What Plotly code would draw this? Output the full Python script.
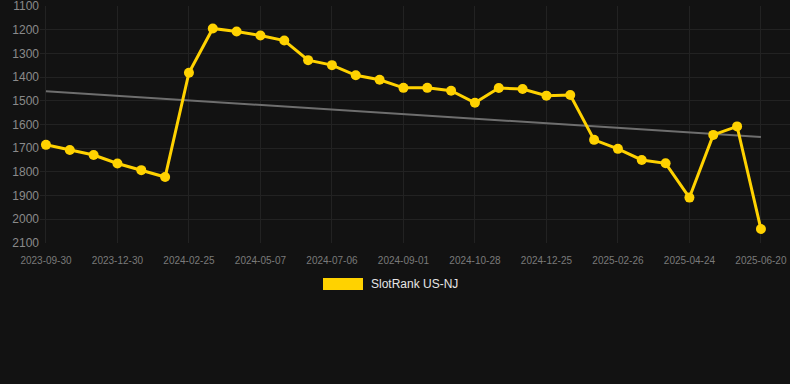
import plotly.graph_objects as go

dates = [
    "2023-09-30", "2023-10-30", "2023-11-30", "2023-12-30", "2024-01-18", "2024-02-06",
    "2024-02-25", "2024-03-19", "2024-04-13", "2024-05-07", "2024-05-27", "2024-06-16",
    "2024-07-06", "2024-07-25", "2024-08-13", "2024-09-01", "2024-09-20", "2024-10-09",
    "2024-10-28", "2024-11-16", "2024-12-05", "2024-12-25", "2025-01-15", "2025-02-05",
    "2025-02-26", "2025-03-17", "2025-04-05", "2025-04-24", "2025-05-13", "2025-06-01",
    "2025-06-20",
]
rank = [
    1686, 1708, 1729, 1765, 1793, 1822,
    1381, 1194, 1207, 1224, 1245, 1328,
    1349, 1392, 1411, 1445, 1445, 1457,
    1508, 1446, 1450, 1478, 1475, 1665,
    1703, 1750, 1764, 1909, 1644, 1608,
    2042,
]
trend_x = [dates[0], dates[-1]]
trend_y = [1459, 1653]

tick_labels = dates[::3]
y_ticks = [1100, 1200, 1300, 1400, 1500, 1600, 1700, 1800, 1900, 2000, 2100]

series_name = "SlotRank US-NJ"
gold = "#FFD200"
bg = "#121212"
grid = "#222222"

fig = go.Figure()
fig.add_trace(go.Scatter(
    x=trend_x, y=trend_y, mode="lines",
    line=dict(color="#6e6e6e", width=2),
    showlegend=False, hoverinfo="skip",
))
fig.add_trace(go.Scatter(
    x=dates, y=rank, mode="lines+markers", name=series_name,
    line=dict(color=gold, width=3),
    marker=dict(color=gold, size=10),
    showlegend=False,
))

# legend swatch + label
fig.add_shape(type="rect", xref="paper", yref="paper",
              x0=(323 - 40) / 750, x1=(363 - 40) / 750,
              y0=(243 - 278) / 237, y1=(243 - 290) / 237,
              fillcolor=gold, line=dict(width=0))
fig.add_annotation(text=series_name, xref="paper", yref="paper",
                   x=(369 - 40) / 750, y=(243 - 284) / 237,
                   xanchor="left", yanchor="middle", showarrow=False,
                   font=dict(family="Liberation Sans, Arial", size=12, color="#e6e6e6"))

fig.update_layout(
    width=790, height=384,
    margin=dict(l=40, r=0, t=6, b=141),
    paper_bgcolor=bg, plot_bgcolor=bg,
    font=dict(family="Liberation Sans, Arial", color="#888888"),
    showlegend=False,
    xaxis=dict(
        type="category", categoryorder="array", categoryarray=dates,
        range=[-0.25, 31.22],
        tickmode="array", tickvals=tick_labels, ticktext=tick_labels,
        tickangle=0,
        tickfont=dict(size=10, color="#7a7a7a"),
        showgrid=True, gridcolor=grid, gridwidth=1,
        zeroline=False, showline=False,
        ticks="outside", ticklen=8, tickcolor=bg,
        ticklabeloverflow="allow",
    ),
    yaxis=dict(
        range=[2101, 1099],
        tickmode="array", tickvals=y_ticks,
        tickfont=dict(size=12, color="#8a8a8a"),
        showgrid=True, gridcolor=grid, gridwidth=1,
        zeroline=False, showline=False, ticks="",
        ticklabeloverflow="allow",
    ),
)

fig.write_html(
    "out.html",
    config={"displayModeBar": False},
    post_script="document.body.style.margin='0';document.body.style.background='%s';" % bg,
)
